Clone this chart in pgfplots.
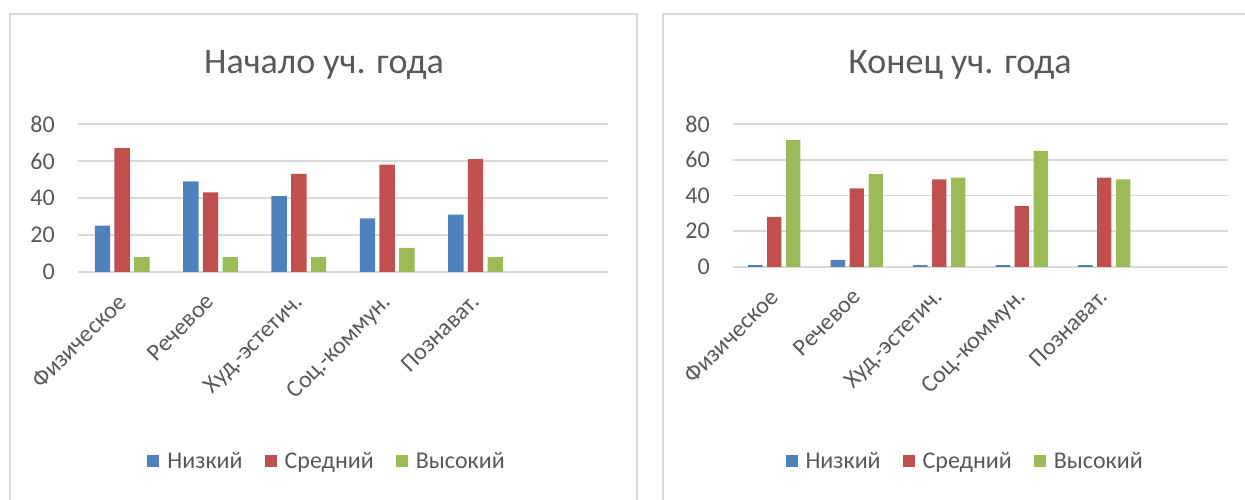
\documentclass[border=0pt]{standalone}
\usepackage{fontspec}
\setmainfont{Carlito}
\usepackage{pgfplots}
\pgfplotsset{compat=1.18}
\definecolor{cblue}{HTML}{4F81BD}
\definecolor{cred}{HTML}{C0504D}
\definecolor{cgreen}{HTML}{9BBB59}
\definecolor{txt}{HTML}{595959}
\definecolor{gridc}{HTML}{D9D9D9}
\pgfplotsset{
 mystyle/.style={
  scale only axis, anchor=south west,
  ybar, ymin=0, ymax=80, ytick={0,20,40,60,80},
  xmin=-0.5, xmax=5.5, xtick={0,1,2,3,4},
  xticklabels={Физическое,Речевое,Худ.-эстетич.,Соц.-коммун.,Познават.},
  axis line style={draw=none}, major tick length=0pt,
  ymajorgrids, major grid style={gridc, line width=1.5pt},
  tick label style={font=\fontsize{24}{28}\selectfont, text=txt},
  /pgf/number format/assume math mode=true,
  yticklabel style={anchor=east, inner sep=0pt, xshift=-23pt},
  xticklabel style={anchor=north east, inner sep=0pt, xshift=-6pt, yshift=-20pt, rotate=45},
  legend columns=3,
  legend style={draw=none, fill=none, font=\fontsize{24}{28}\selectfont, text=txt, anchor=center,
    /tikz/every odd column/.append style={column sep=6pt},
    /tikz/every even column/.append style={column sep=20pt}},
 },
 myleg/.style={
  legend image code/.code={\fill[##1] (0pt,-6pt) rectangle (12pt,6pt);},
 }
}
\begin{document}
\begin{tikzpicture}
\path[use as bounding box] (0pt,0pt) rectangle (1245pt,500pt);
\draw[gridc, line width=2pt] (9.5pt,0pt) -- (9.5pt,486pt) -- (637pt,486pt) -- (637pt,0pt);
\draw[gridc, line width=2pt] (663pt,0pt) -- (663pt,486pt) -- (1245pt,486pt);
\node[font=\fontsize{36}{40}\selectfont, text=txt] at (324pt,435pt) {Начало уч. года};
\node[font=\fontsize{36}{40}\selectfont, text=txt] at (960pt,435pt) {Конец уч. года};
\begin{axis}[mystyle, at={(78pt,228pt)}, width=530pt, height=148pt,
  bar width=15.4pt, ybar=4.3pt, myleg, legend style={at={(0.47,-1.277)}}]
\addplot[fill=cblue, draw=none] coordinates {(0,25) (1,49) (2,41) (3,29) (4,31)};
\addplot[fill=cred, draw=none] coordinates {(0,67) (1,43) (2,53) (3,58) (4,61)};
\addplot[fill=cgreen, draw=none] coordinates {(0,8) (1,8) (2,8) (3,13) (4,8)};
\legend{Низкий,Средний,Высокий}
\end{axis}
\begin{axis}[mystyle, at={(733pt,233pt)}, width=495pt, height=143pt,
  bar width=14.3pt, ybar=4.6pt, myleg, legend style={at={(0.469,-1.357)}}]
\addplot[fill=cblue, draw=none] coordinates {(0,1) (1,4) (2,1) (3,1) (4,1)};
\addplot[fill=cred, draw=none] coordinates {(0,28) (1,44) (2,49) (3,34) (4,50)};
\addplot[fill=cgreen, draw=none] coordinates {(0,71) (1,52) (2,50) (3,65) (4,49)};
\legend{Низкий,Средний,Высокий}
\end{axis}
\end{tikzpicture}
\end{document}
